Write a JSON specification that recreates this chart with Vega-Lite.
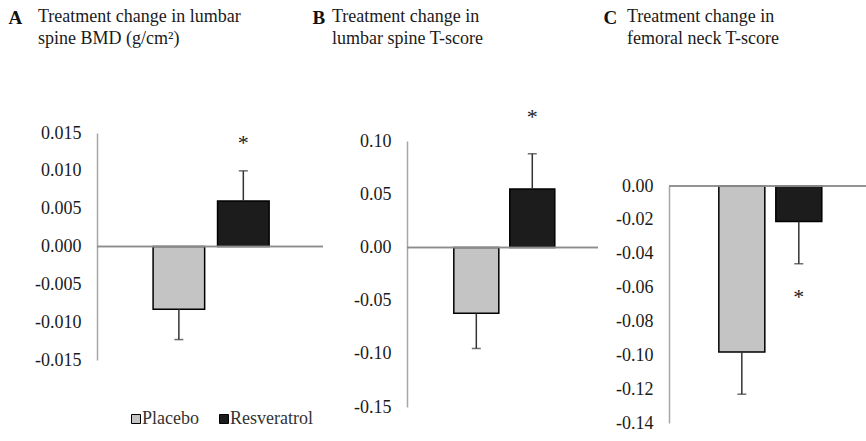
{
  "$schema": "https://vega.github.io/schema/vega-lite/v6.json",
  "background": "white",
  "padding": {"left": 8, "top": 8, "right": 0, "bottom": 0},
  "config": {
    "font": "Liberation Serif",
    "view": {"stroke": null},
    "text": {"font": "Liberation Serif"},
    "title": {"font": "Liberation Serif", "fontSize": 18, "fontWeight": "normal", "color": "#1a1a1a", "lineHeight": 22, "anchor": "start", "frame": "group", "offset": 0},
    "legend": {"labelFont": "Liberation Serif"},
    "axis": {
      "ticks": false, "tickSize": 0, "labelPadding": 16, "grid": false,
      "domainColor": "#a6a6a6", "domainWidth": 1.5,
      "labelFont": "Liberation Serif", "labelFontSize": 18, "labelColor": "#1a1a1a", "labelOverlap": false,
      "titleFont": "Liberation Serif", "titleFontSize": 19, "titleFontWeight": "bold", "titleColor": "#111111",
      "titleAngle": 0, "titleAlign": "left", "titleBaseline": "alphabetic", "titlePadding": 0
    }
  },
  "datasets": {
    "d": [
      {"panel": "A", "group": "Placebo", "value": -0.0083, "err": -0.0123, "star": "", "starY": null},
      {"panel": "A", "group": "Resveratrol", "value": 0.006, "err": 0.010, "star": "*", "starY": 0.0128},
      {"panel": "B", "group": "Placebo", "value": -0.062, "err": -0.095, "star": "", "starY": null},
      {"panel": "B", "group": "Resveratrol", "value": 0.055, "err": 0.088, "star": "*", "starY": 0.1164},
      {"panel": "C", "group": "Placebo", "value": -0.098, "err": -0.123, "star": "", "starY": null},
      {"panel": "C", "group": "Resveratrol", "value": -0.021, "err": -0.046, "star": "*", "starY": -0.0695}
    ]
  },
  "resolve": {"scale": {"x": "independent", "y": "independent", "color": "independent"}},
  "bounds": "flush",
  "spacing": 84,
  "hconcat": [
    {
      "width": 226, "height": 291,
      "data": {"name": "d"},
      "transform": [{"filter": "datum.panel == 'A'"}],
      "title": {"text": ["Treatment change in lumbar", "spine BMD (g/cm²)"], "dx": -59, "dy": 44},
      "layer": [
        {
          "mark": {"type": "bar", "stroke": "black", "strokeWidth": 1.5},
          "encoding": {
            "x": {"field": "group", "type": "nominal", "scale": {"paddingInner": 0.2, "paddingOuter": 0.853, "align": 0.51}, "axis": null},
            "y": {"field": "value", "type": "quantitative", "scale": {"domain": [-0.015, 0.015], "nice": false, "range": [227, 0]},
              "axis": {"values": [-0.015, -0.01, -0.005, 0, 0.005, 0.01, 0.015], "labelOverlap": false, "labelFont": "Liberation Serif", "labelExpr": "replace(format(datum.value, '.3f'), '\u2212', '-')",
                "title": "A", "titleX": -89, "titleY": -110}},
            "color": {"field": "group", "type": "nominal",
              "scale": {"domain": ["Placebo", "Resveratrol"], "range": ["#c4c4c4", "#1c1c1c"]},
              "legend": {"orient": "none", "legendX": 30, "legendY": 277, "direction": "horizontal", "title": null,
                "symbolType": "square", "symbolSize": 81, "symbolStrokeColor": "black", "symbolStrokeWidth": 1,
                "labelFont": "Liberation Serif", "labelFontSize": 18, "labelColor": "#333333", "labelOffset": -3, "columnPadding": 16}}
          }
        },
        {"mark": {"type": "rule", "color": "#8c8c8c", "strokeWidth": 1.5}, "encoding": {"y": {"datum": 0, "type": "quantitative"}}},
        {"mark": {"type": "rule", "color": "#333333", "strokeWidth": 1.5},
          "encoding": {"x": {"field": "group", "type": "nominal"}, "y": {"field": "value", "type": "quantitative"}, "y2": {"field": "err"}}},
        {"mark": {"type": "tick", "color": "#333333", "thickness": 1.5, "size": 9},
          "encoding": {"x": {"field": "group", "type": "nominal"}, "y": {"field": "err", "type": "quantitative"}}},
        {"mark": {"type": "text", "font": "Liberation Serif", "fontSize": 22, "color": "#222222", "baseline": "alphabetic"},
          "encoding": {"x": {"field": "group", "type": "nominal"}, "y": {"field": "starY", "type": "quantitative"}, "text": {"field": "star"}}}
      ]
    },
    {
      "bounds": "flush",
      "spacing": 71,
      "resolve": {"scale": {"x": "independent", "y": "independent", "color": "independent"}},
      "hconcat": [
        {
          "width": 191, "height": 291,
          "data": {"name": "d"},
          "transform": [{"filter": "datum.panel == 'B'"}],
          "title": {"text": ["Treatment change in", "lumbar spine T-score"], "dx": -75, "dy": 44},
          "layer": [
            {
              "mark": {"type": "bar", "stroke": "black", "strokeWidth": 1.5},
              "encoding": {
                "x": {"field": "group", "type": "nominal", "scale": {"paddingInner": 0.196, "paddingOuter": 0.804, "align": 0.52}, "axis": null},
                "y": {"field": "value", "type": "quantitative", "scale": {"domain": [-0.15, 0.10], "nice": false, "range": [274, 8]},
                  "axis": {"values": [-0.15, -0.1, -0.05, 0, 0.05, 0.1], "labelOverlap": false, "labelFont": "Liberation Serif", "labelExpr": "replace(format(datum.value, '.2f'), '\u2212', '-')",
                    "title": "B", "titleX": -95, "titleY": -110}},
                "color": {"field": "group", "type": "nominal",
                  "scale": {"domain": ["Placebo", "Resveratrol"], "range": ["#c4c4c4", "#1c1c1c"]}, "legend": null}
              }
            },
            {"mark": {"type": "rule", "color": "#8c8c8c", "strokeWidth": 1.5}, "encoding": {"y": {"datum": 0, "type": "quantitative"}}},
            {"mark": {"type": "rule", "color": "#333333", "strokeWidth": 1.5},
              "encoding": {"x": {"field": "group", "type": "nominal"}, "y": {"field": "value", "type": "quantitative"}, "y2": {"field": "err"}}},
            {"mark": {"type": "tick", "color": "#333333", "thickness": 1.5, "size": 9},
              "encoding": {"x": {"field": "group", "type": "nominal"}, "y": {"field": "err", "type": "quantitative"}}},
            {"mark": {"type": "text", "font": "Liberation Serif", "fontSize": 22, "color": "#222222", "baseline": "alphabetic"},
              "encoding": {"x": {"field": "group", "type": "nominal"}, "y": {"field": "starY", "type": "quantitative"}, "text": {"field": "star"}}}
          ]
        },
        {
          "width": 197, "height": 291,
          "data": {"name": "d"},
          "transform": [{"filter": "datum.panel == 'C'"}],
          "title": {"text": ["Treatment change in", "femoral neck T-score"], "dx": -42, "dy": 44},
          "layer": [
            {
              "mark": {"type": "bar", "stroke": "black", "strokeWidth": 1.5},
              "encoding": {
                "x": {"field": "group", "type": "nominal", "scale": {"paddingInner": 0.193, "paddingOuter": 0.825, "align": 0.53}, "axis": null},
                "y": {"field": "value", "type": "quantitative", "scale": {"domain": [-0.14, 0], "nice": false, "range": [290, 53]},
                  "axis": {"values": [-0.14, -0.12, -0.1, -0.08, -0.06, -0.04, -0.02, 0], "labelOverlap": false, "labelFont": "Liberation Serif", "labelExpr": "replace(format(datum.value, '.2f'), '\u2212', '-')",
                    "title": "C", "titleX": -66, "titleY": -110}},
                "color": {"field": "group", "type": "nominal",
                  "scale": {"domain": ["Placebo", "Resveratrol"], "range": ["#c4c4c4", "#1c1c1c"]}, "legend": null}
              }
            },
            {"mark": {"type": "rule", "color": "#8c8c8c", "strokeWidth": 1.5}, "encoding": {"y": {"datum": 0, "type": "quantitative"}}},
            {"mark": {"type": "rule", "color": "#333333", "strokeWidth": 1.5},
              "encoding": {"x": {"field": "group", "type": "nominal"}, "y": {"field": "value", "type": "quantitative"}, "y2": {"field": "err"}}},
            {"mark": {"type": "tick", "color": "#333333", "thickness": 1.5, "size": 9},
              "encoding": {"x": {"field": "group", "type": "nominal"}, "y": {"field": "err", "type": "quantitative"}}},
            {"mark": {"type": "text", "font": "Liberation Serif", "fontSize": 22, "color": "#222222", "baseline": "alphabetic"},
              "encoding": {"x": {"field": "group", "type": "nominal"}, "y": {"field": "starY", "type": "quantitative"}, "text": {"field": "star"}}}
          ]
        }
      ]
    }
  ]
}
